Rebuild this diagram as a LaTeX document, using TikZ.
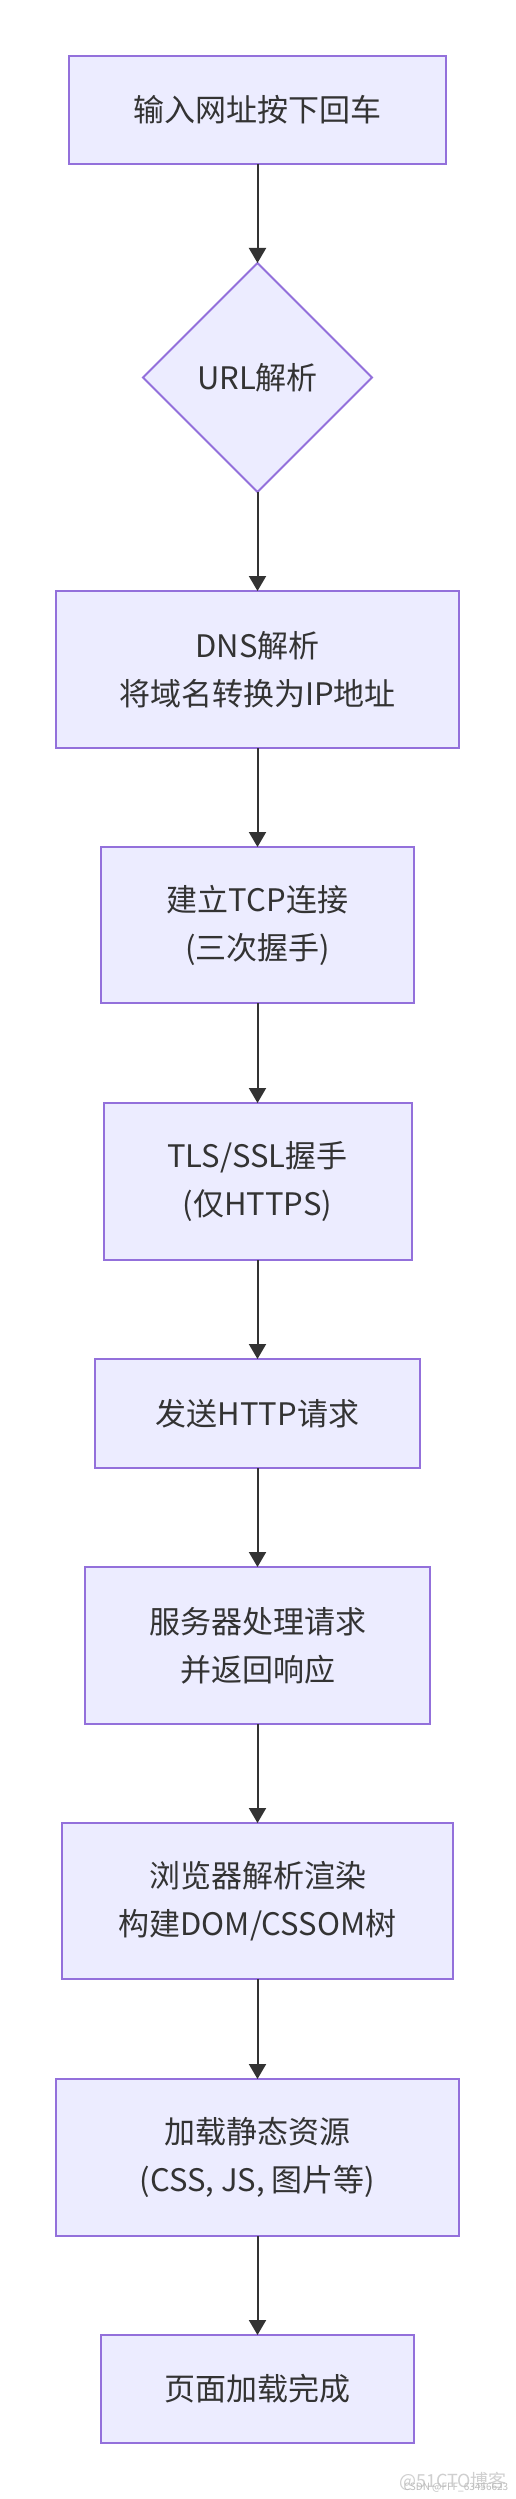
\documentclass[tikz,border=0pt]{standalone}
\usepackage{fontspec}
\setmainfont{Noto Sans CJK SC}
\usetikzlibrary{shapes.geometric,arrows.meta}
\definecolor{nodefill}{HTML}{ECECFF}
\definecolor{nodeline}{HTML}{9370DB}
\definecolor{txt}{HTML}{333333}
\definecolor{wm}{HTML}{CFCFCF}
\definecolor{wmb}{HTML}{BDBDBD}
\tikzset{
  stepbox/.style={rectangle, draw=nodeline, fill=nodefill, line width=2pt, text=txt,
    align=center, inner sep=0pt, outer sep=0pt,
    font=\fontsize{31}{48}\selectfont},
  choice/.style={diamond, aspect=1, draw=nodeline, fill=nodefill, line width=2pt, text=txt,
    align=center, inner sep=0pt, outer sep=0pt, minimum width=229pt, minimum height=229pt,
    font=\fontsize{31}{48}\selectfont},
  flow/.style={draw=txt, line width=2pt, -{Triangle[width=17pt,length=15pt]}}
}
\begin{document}
\begin{tikzpicture}[x=1pt,y=-1pt]
\useasboundingbox[fill=white] (0,0) rectangle (515,2499);
\node[stepbox, minimum width=377pt, minimum height=108pt] (n1) at (257.5,110) {输入网址按下回车};
\node[choice] (n2) at (257.5,377.5) {URL解析};
\node[stepbox, minimum width=403pt, minimum height=157pt] (n3) at (257.5,669.5) {DNS解析\\将域名转换为IP地址};
\node[stepbox, minimum width=313pt, minimum height=156pt] (n4) at (257.5,925) {建立TCP连接\\(三次握手)};
\node[stepbox, minimum width=308pt, minimum height=157pt] (n5) at (257.5,1181.5) {TLS/SSL握手\\(仅HTTPS)};
\node[stepbox, minimum width=325pt, minimum height=109pt] (n6) at (257.5,1413.5) {发送HTTP请求};
\node[stepbox, minimum width=345pt, minimum height=157pt] (n7) at (257.5,1645.5) {服务器处理请求\\并返回响应};
\node[stepbox, minimum width=391pt, minimum height=156pt] (n8) at (257.5,1901) {浏览器解析渲染\\构建DOM/CSSOM树};
\node[stepbox, minimum width=403pt, minimum height=157pt] (n9) at (257.5,2157.5) {加载静态资源\\(CSS, JS, 图片等)};
\node[stepbox, minimum width=313pt, minimum height=108pt] (n10) at (257.5,2389) {页面加载完成};
\draw[flow] (n1.south) -- (n2.north);
\draw[flow] (n2.south) -- (n3.north);
\draw[flow] (n3.south) -- (n4.north);
\draw[flow] (n4.south) -- (n5.north);
\draw[flow] (n5.south) -- (n6.north);
\draw[flow] (n6.south) -- (n7.north);
\draw[flow] (n7.south) -- (n8.north);
\draw[flow] (n8.south) -- (n9.north);
\draw[flow] (n9.south) -- (n10.north);
\node[text=wm, font=\fontsize{18}{18}\selectfont, inner sep=0pt] (wm1) at (453,2481) {@51CTO博客};
\node[text=wmb, font=\fontsize{10}{10}\selectfont, inner sep=0pt] (wm2) at (456,2488) {CSDN @FFF\_63456623};
\end{tikzpicture}
\end{document}
